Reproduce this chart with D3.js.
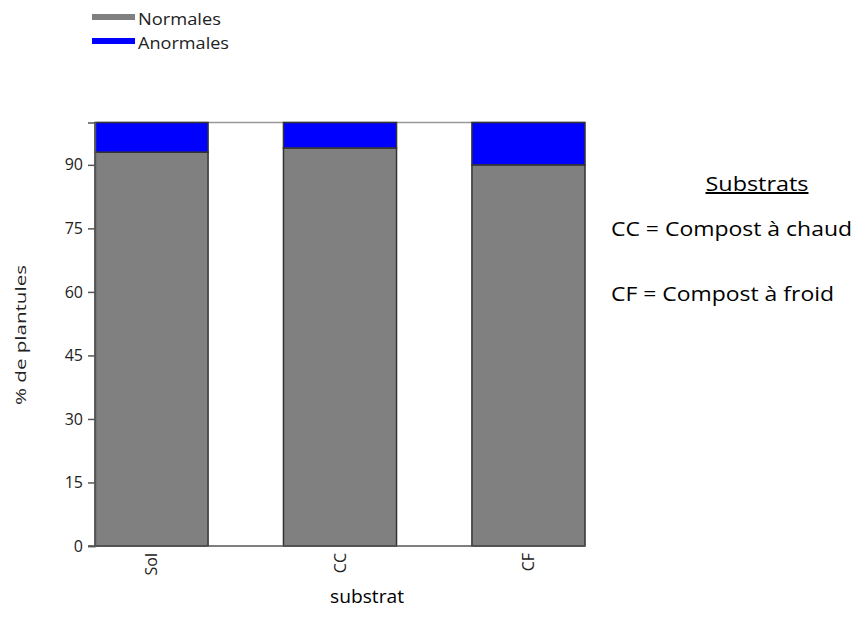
<!DOCTYPE html>
<html>
<head>
<meta charset="utf-8">
<script src="https://cdn.jsdelivr.net/npm/d3@7"></script>
<style>
  body { margin: 0; background: #fff; }
  svg { display: block; }
</style>
</head>
<body>
<svg id="chart" width="857" height="637"></svg>
<script>
const categories = ["Sol", "CC", "CF"];
const normales = [93.0, 94.0, 90.0];
const anormales = [7.0, 6.0, 10.0];
const seriesNames = ["Normales", "Anormales"];
const seriesColors = ["#808080", "#0000ff"];
const yTicks = [0, 15, 30, 45, 60, 75, 90];
const notes = ["CC = Compost à chaud", "CF = Compost à froid"];

(function () {
const svg = d3.select("#chart");
const mLeft = 95, mRight = 585, mTop = 122.5, mBottom = 546;
const font = "Open Sans, sans-serif";

const x = d3.scaleBand().domain(categories).range([mLeft, mRight]).paddingInner(0.4).paddingOuter(0);
const y = d3.scaleLinear().domain([0, 100]).range([mBottom, mTop]);

const data = categories.map((c, i) => ({ cat: c, Normales: normales[i], Anormales: anormales[i] }));
const stack = d3.stack().keys(seriesNames)(data);

// top frame line
svg.append("line").attr("x1", mLeft).attr("x2", mRight).attr("y1", y(100)).attr("y2", y(100))
  .attr("stroke", "#999").attr("stroke-width", 1.5);

// bars
stack.forEach((layer, li) => {
  svg.append("g").selectAll("rect").data(layer).join("rect")
    .attr("x", d => x(d.data.cat))
    .attr("width", x.bandwidth())
    .attr("y", d => y(d[1]))
    .attr("height", d => y(d[0]) - y(d[1]))
    .attr("fill", seriesColors[li])
    .attr("stroke", "#333")
    .attr("stroke-width", 1.5);
});

// y axis
const yAxis = svg.append("g").attr("transform", `translate(${mLeft},0)`)
  .call(d3.axisLeft(y).tickValues(yTicks).tickSize(7).tickPadding(5));
yAxis.select(".domain").attr("stroke", "#555").attr("stroke-width", 1.5);
yAxis.selectAll(".tick line").attr("stroke", "#555").attr("stroke-width", 1.5);
yAxis.selectAll(".tick text").attr("font-family", font).attr("font-size", 16).attr("fill", "#222");

// x axis
const xAxis = svg.append("g").attr("transform", `translate(0,${mBottom})`)
  .call(d3.axisBottom(x).tickSize(0).tickPadding(0));
xAxis.select(".domain").remove();
svg.append("line").attr("x1", 88).attr("x2", mRight).attr("y1", mBottom).attr("y2", mBottom)
  .attr("stroke", "#555").attr("stroke-width", 1.5);
xAxis.selectAll(".tick text")
  .attr("font-family", font).attr("font-size", 16).attr("fill", "#222")
  .attr("transform", "rotate(-90)")
  .attr("text-anchor", "end")
  .attr("x", -7).attr("y", 0).attr("dy", "0.35em");

// y title
svg.append("text").attr("transform", "translate(21,335) rotate(-90)")
  .attr("text-anchor", "middle").attr("dy", "0.35em").attr("font-family", font)
  .attr("font-size", 15).attr("fill", "#222")
  .attr("textLength", 140).attr("lengthAdjust", "spacingAndGlyphs").text("% de plantules");

// x title
svg.append("text").attr("x", 367).attr("y", 603).attr("text-anchor", "middle")
  .attr("font-family", font).attr("font-size", 18).attr("fill", "#000")
  .attr("textLength", 74).attr("lengthAdjust", "spacingAndGlyphs").text("substrat");

// legend
const lg = svg.append("g");
const legW = [83, 91];
seriesNames.forEach((s, i) => {
  const yy = 17 + i * 24;
  lg.append("rect").attr("x", 92).attr("y", yy - 3).attr("width", 43).attr("height", 6).attr("fill", seriesColors[i]);
  lg.append("text").attr("x", 138).attr("y", yy + 8)
    .attr("font-family", font).attr("font-size", 17).attr("fill", "#222")
    .attr("textLength", legW[i]).attr("lengthAdjust", "spacingAndGlyphs").text(s);
});

// notes
svg.append("text").attr("x", 757).attr("y", 191).attr("text-anchor", "middle")
  .attr("font-family", font).attr("font-size", 20).attr("fill", "#000")
  .attr("textLength", 103).attr("lengthAdjust", "spacingAndGlyphs")
  .attr("text-decoration", "underline").text("Substrats");
const noteW = [241, 223];
notes.forEach((n, i) => {
  svg.append("text").attr("x", 611).attr("y", 236 + i * 65)
    .attr("font-family", font).attr("font-size", 20).attr("fill", "#000")
    .attr("textLength", noteW[i]).attr("lengthAdjust", "spacingAndGlyphs").text(n);
});
})();
</script>
</body>
</html>
